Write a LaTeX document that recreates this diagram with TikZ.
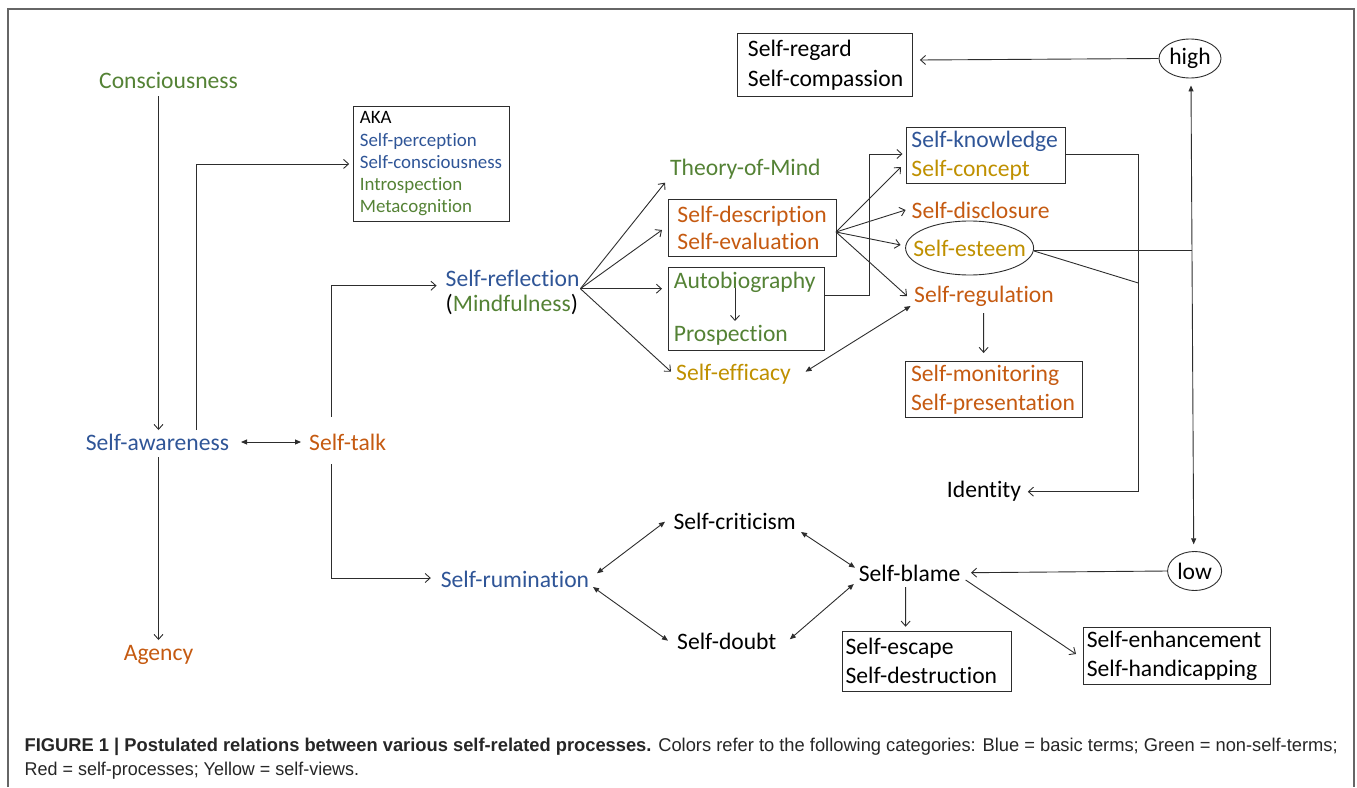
\documentclass[tikz,border=0pt]{standalone}
\usepackage{fontspec}
\usepackage{graphicx}
\newfontfamily\carlito[Ligatures=CommonOff]{Carlito}
\newfontfamily\capfont{Liberation Sans}
\usetikzlibrary{arrows.meta,calc,shapes.geometric}
\definecolor{kb}{RGB}{47,85,151}
\definecolor{kg}{RGB}{84,130,53}
\definecolor{kr}{RGB}{197,90,17}
\definecolor{ky}{RGB}{191,144,0}
\definecolor{kl}{RGB}{45,45,45}
\begin{document}
\begin{tikzpicture}[x=1pt,y=-1pt,
  mf/.style={font=\carlito\fontsize{23.6}{29}\selectfont},
  t/.style={mf,anchor=west,inner sep=0pt},
  box/.style={mf,draw=kl,line width=0.9pt,anchor=north west,align=left,inner ysep=0pt},
  ell/.style={mf,draw=kl,line width=0.9pt,ellipse,inner sep=0pt},
  con/.style={draw=kl,line width=0.9pt},
  oa/.style={con,-{Straight Barb[length=5pt,width=9pt]}},
  fa/.style={con,{Triangle[length=6pt,width=5pt]}-{Triangle[length=6pt,width=5pt]}},
]
\useasboundingbox (0,0) rectangle (1357,787);
% frame
\draw[black!60,line width=1.4pt] (8,787) -- (8,9) -- (1354,9) -- (1354,787);

% text nodes
\node[t,text=kg] (cons) at (99,80) {Consciousness};
\node[t,text=kb] (aw) at (85.7,442) {Self-awareness};
\node[t,text=kr] (st) at (309,442) {Self-talk};
\node[t,text=kr] (ag) at (123.7,655) {Agency};
\node[t,text=kb] (sr) at (445.5,278.3) {Self-reflection};
\node[t] (mind) at (445.5,305) {(\textcolor{kg}{Mindfulness})};
\node[t,text=kg] (tom) at (670,169) {Theory-of-Mind};
\node[t,text=ky] (eff) at (676,374) {Self-efficacy};
\node[t,text=kr] (disc) at (911.5,210) {Self-disclosure};
\node[t,text=kr] (reg) at (914,296) {Self-regulation};
\node[t] (iden) at (946.7,491.7) {Identity};
\node[t] (blame) at (858.7,573) {Self-blame};
\node[t] (crit) at (673.4,521.7) {Self-criticism};
\node[t,text=kb] (ru) at (440.6,579.3) {Self-rumination};
\node[t] (doubt) at (677,641.7) {Self-doubt};

% ellipses
\node[ell,minimum width=128,minimum height=54,text=ky] (se) at (969.6,248) {\makebox[0pt]{Self-esteem}};
\node[ell,minimum width=62,minimum height=39] (high) at (1190,58.5) {\makebox[0pt]{high}};
\node[ell,minimum width=54,minimum height=39] (low) at (1194.6,571) {\makebox[0pt]{low}};

% boxes
\node[box,font=\carlito\fontsize{18.9}{22.3}\selectfont,inner xsep=6.7pt,text width=142.9pt,minimum height=115] (aka) at (352.7,106)
  {AKA\\\textcolor{kb}{Self-perception}\\\textcolor{kb}{Self-consciousness}\\\textcolor{kg}{Introspection}\\\textcolor{kg}{Metacognition}};
\node[box,font=\carlito\fontsize{23.6}{27}\selectfont,inner xsep=9pt,text width=150pt,minimum height=57] (desc) at (668,199)
  {\textcolor{kr}{Self-description}\\\textcolor{kr}{Self-evaluation}};
\node[box,font=\carlito\fontsize{23.6}{53}\selectfont,inner xsep=5.4pt,text width=145.2pt,minimum height=83] (auto) at (668,267)
  {\textcolor{kg}{Autobiography}\\\textcolor{kg}{Prospection}};
\node[box,inner xsep=5.4pt,text width=148.6pt,minimum height=56] (know) at (905.6,127)
  {\textcolor{kb}{Self-knowledge}\\\textcolor{ky}{Self-concept}};
\node[box,inner xsep=5.9pt,text width=165pt,minimum height=56] (mon) at (904.7,361)
  {\textcolor{kr}{Self-monitoring}\\\textcolor{kr}{Self-presentation}};
\node[box,font=\carlito\fontsize{23.6}{30}\selectfont,inner xsep=5pt,text width=164.5pt,minimum height=63] (regard) at (737,33)
  {\hspace*{5.5pt}Self-regard\\\hspace*{5.5pt}Self-compassion};
\node[box,inner xsep=3.5pt,text width=162.1pt,minimum height=59.7] (escape) at (841.6,631)
  {Self-escape\\Self-destruction};
\node[box,inner xsep=3.5pt,text width=180.6pt,minimum height=57] (enh) at (1082.8,627.3)
  {Self-enhancement\\Self-handicapping};

% caption
\node[anchor=west,inner sep=0pt,text=black!85] (cap1) at (24.5,747)
  {\resizebox{1313pt}{\height}{\capfont\fontsize{18.5}{23}\selectfont\textbf{FIGURE 1 | Postulated relations between various self-related processes.} Colors refer to the following categories: Blue = basic terms; Green = non-self-terms;}};
\node[anchor=west,inner sep=0pt,text=black!85] (cap2) at (24.5,771)
  {\resizebox{334.5pt}{\height}{\capfont\fontsize{18.5}{23}\selectfont Red = self-processes; Yellow = self-views.}};

% connectors
\draw[oa] ($(cons.west)+(59.5,16)$) -- ($(aw.west)+(72.8,-12)$);
\draw[oa] ($(aw.west)+(110.7,-12)$) |- ($(aka.west)+(-3.5,0)$);
\draw[fa] ($(aw.west)+(155.3,0)$) -- ($(st.west)+(-8,0)$);
\draw[oa] ($(st.west)+(22,-25.3)$) |- ($(sr.west)+(-8.9,7.4)$);
\draw[oa] ($(st.west)+(22,22)$) |- ($(ru.west)+(-9.8,-1.3)$);
\draw[oa] ($(aw.west)+(72.8,15)$) -- ($(ag.west)+(34.8,-15)$);

\draw[oa] ($(sr.west)+(134.9,10.4)$) -- ($(tom.west)+(-5,13.7)$);
\draw[oa] ($(sr.west)+(134.9,10.4)$) -- ($(desc.north west)+(-6,31)$);
\draw[oa] ($(sr.west)+(134.9,10.4)$) -- ($(auto.north west)+(-6,21.7)$);
\draw[oa] ($(sr.west)+(134.9,10.4)$) -- ($(eff.west)+(-5,-2.3)$);

\draw[oa] ($(auto.north west)+(67,21)$) -- ($(auto.north west)+(67,54)$);

\draw[oa] ($(desc.north west)+(168,33)$) -- ($(know.north west)+(-4.6,40)$);
\draw[oa] ($(desc.north west)+(168,33)$) -- ($(disc.west)+(-5.9,0)$);
\draw[oa] ($(desc.north west)+(168,33)$) -- ($(se.west)+(-4.6,-3)$);
\draw[oa] ($(desc.north west)+(168,33)$) -- ($(reg.west)+(-7,0)$);

\draw[oa] ($(auto.north west)+(156,28)$) -- ++(45.6,0) |- ($(know.north west)+(-3.1,27)$);
\draw[fa] ($(eff.west)+(129.5,-2.3)$) -- ($(reg.west)+(-3.4,10)$);
\draw[oa] ($(reg.west)+(69.6,17)$) -- ($(mon.north west)+(78.9,-8)$);

\draw[oa] ($(know.north west)+(159.4,27)$) -- ++(73,0) |- ($(iden.west)+(81.1,0)$);
\draw[con] ($(se.east)+(0,2)$) -- ++(158.4,0);
\draw[con] ($(se.east)+(0,3)$) -- ++(104.3,32);

\draw[fa] ($(high.south)+(1,7)$) -- ($(low.north)+(-0.9,-6.7)$);
\draw[oa] (high.west) -- ($(regard.north east)+(7.5,27)$);
\draw[oa] (low.west) -- ($(blame.west)+(112.3,-0.3)$);

\draw[fa] ($(ru.west)+(156.4,-6)$) -- ($(crit.west)+(-8.4,0)$);
\draw[fa] ($(ru.west)+(152.4,7.7)$) -- ($(doubt.west)+(-9,-1)$);
\draw[fa] ($(crit.west)+(127.6,10.3)$) -- ($(blame.west)+(-3.7,-5.3)$);
\draw[fa] ($(doubt.west)+(112.8,-2.4)$) -- ($(blame.west)+(-4.9,11)$);
\draw[oa] ($(blame.west)+(46.9,14)$) -- ($(escape.north west)+(64,-4.3)$);
\draw[oa] ($(blame.west)+(106.9,7)$) -- ($(enh.north west)+(-6.8,26.7)$);
\end{tikzpicture}
\end{document}
